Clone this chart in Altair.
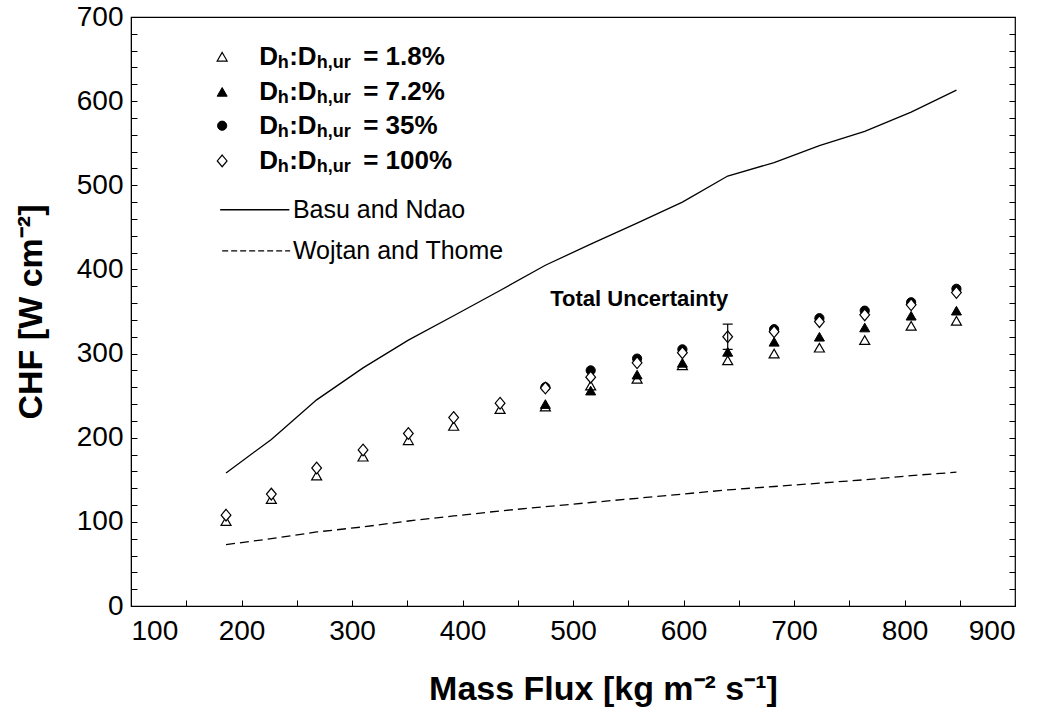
import altair as alt
import pandas as pd

# ---------------- data ----------------
mass_flux = [186, 227, 268, 310, 351, 392, 434, 475, 516, 558, 599, 640, 682, 723, 764, 806, 847]

chf_dh_1_8 = [101, 127, 155, 177.5, 197, 214, 234, 237, 262, 270, 286, 292, 300, 307, 316, 333, 339]

flux_dh_7_2 = [475, 516, 558, 599, 640, 682, 723, 764, 806, 847]
chf_dh_7_2 = [240, 256, 275, 289, 302, 314, 320, 331, 345, 351]

flux_dh_35 = [475, 516, 558, 599, 682, 723, 764, 806, 847]
chf_dh_35 = [260, 280, 294, 305, 329, 342, 351, 361, 377]

chf_dh_100 = [108, 133, 164, 185.5, 205, 224, 241, 259, 272, 289, 301, 320, 326, 338, 346, 358, 372.5]

chf_basu_ndao = [158, 198, 245, 283, 316, 345, 375, 405, 430, 455, 480, 511, 527, 547, 564, 587, 613]
chf_wojtan_thome = [73, 80, 88, 94, 101, 107, 113, 118, 123, 128, 133, 138, 142, 146, 150, 155, 159]

# total uncertainty bar
err_flux = [640]
err_low = [305]
err_high = [335]

x_ticks = [100, 200, 300, 400, 500, 600, 700, 800, 900]
x_minor = list(range(100, 901, 50))
y_ticks = [0, 100, 200, 300, 400, 500, 600, 700]
y_minor = list(range(0, 701, 20))

# legend content
legend_values = ["= 1.8%", "= 7.2%", "= 35%", "= 100%"]
legend_rows = [652.8, 611.0, 570.8, 529.0]
legend_symbol_x = 182.5
legend_text_x = 216
basu_legend_x = [180.7, 243.3]
basu_legend_y = 470.9
wojtan_legend_x = [182.5, 244.0]
wojtan_legend_y = 422.0
legend_line_text_x = 246.5
note_x, note_y = 560, 365

W, H = 884, 589
FONT = "Liberation Sans"

xs = alt.Scale(domain=[100, 900], nice=False, zero=False)
ys = alt.Scale(domain=[0, 700], nice=False, zero=False)

no_x = alt.X("x:Q", scale=xs, axis=None)
no_y = alt.Y("y:Q", scale=ys, axis=None)

curves = pd.DataFrame({"x": mass_flux, "basu": chf_basu_ndao, "woj": chf_wojtan_thome})

basu = alt.Chart(curves).mark_line(color="black", strokeWidth=1.3).encode(
    x=alt.X("x:Q", scale=xs, axis=alt.Axis(
        orient="bottom", values=x_ticks, format="d", ticks=False, tickSize=0,
        domain=True, domainColor="black", domainWidth=1, grid=False,
        labelFont=FONT, labelFontSize=28, labelColor="black", labelPadding=11,
        title="Mass Flux [kg m⁻² s⁻¹]", titleFont=FONT, titleFontSize=34,
        titleFontWeight="bold", titleColor="black", titlePadding=27, titleX=472)),
    y=alt.Y("basu:Q", scale=ys, axis=alt.Axis(
        orient="left", values=y_ticks, format="d", ticks=False, tickSize=0,
        domain=True, domainColor="black", domainWidth=1, grid=False,
        labelFont=FONT, labelFontSize=28, labelColor="black", labelPadding=8,
        title="CHF  [W cm⁻²]", titleFont=FONT, titleFontSize=34,
        titleFontWeight="bold", titleColor="black", titlePadding=28)),
)

wojtan = alt.Chart(curves).mark_line(color="black", strokeWidth=1.3, strokeDash=[9, 5]).encode(
    x=alt.X("x:Q", scale=xs, axis=alt.Axis(
        orient="top", offset=-H, values=x_minor, labels=False, ticks=True, tickSize=6,
        tickColor="black", tickWidth=1, domain=False, grid=False, title=None)),
    y=alt.Y("woj:Q", scale=ys, axis=alt.Axis(
        orient="right", offset=-W, values=y_minor, labels=False, ticks=True, tickSize=6,
        tickColor="black", tickWidth=1, domain=False, grid=False, title=None)),
)

d18 = pd.DataFrame({"x": mass_flux, "y": chf_dh_1_8})
d72 = pd.DataFrame({"x": flux_dh_7_2, "y": chf_dh_7_2})
d35 = pd.DataFrame({"x": flux_dh_35, "y": chf_dh_35})
d100 = pd.DataFrame({"x": mass_flux, "y": chf_dh_100})

DIAMOND = "M0,-1.2L1,0L0,1.2L-1,0Z"

def open_tri(df, with_axis=False):
    yenc = alt.Y("y:Q", scale=ys, axis=alt.Axis(
        orient="left", offset=-W, values=y_minor, labels=False, ticks=True, tickSize=6,
        tickColor="black", tickWidth=1, domain=False, grid=False, title=None)) if with_axis else no_y
    return alt.Chart(df).mark_point(shape="triangle-up", filled=True, fill="white", stroke="black",
                                    strokeWidth=1.2, size=100, opacity=1).encode(x=no_x, y=yenc)

def filled_tri(df):
    return alt.Chart(df).mark_point(shape="triangle-up", filled=True, fill="black", stroke="black",
                                    strokeWidth=1, size=100, opacity=1).encode(x=no_x, y=no_y)

def circle(df):
    return alt.Chart(df).mark_point(shape="circle", filled=True, fill="black", stroke="black",
                                    strokeWidth=1, size=85, opacity=1).encode(x=no_x, y=no_y)

def diamond(df):
    return alt.Chart(df).mark_point(shape=DIAMOND, filled=True, fill="white", stroke="black",
                                    strokeWidth=1.2, size=95, opacity=1).encode(x=no_x, y=no_y)

err = pd.DataFrame({"x": err_flux, "lo": err_low, "hi": err_high})
err_rule = alt.Chart(err).mark_rule(color="black", strokeWidth=1.2).encode(
    x=no_x, y=alt.Y("lo:Q", scale=ys, axis=None), y2="hi:Q")
err_caps = alt.Chart(pd.DataFrame({"x": err_flux * 2, "y": err_low + err_high})).mark_tick(
    orient="horizontal", size=10, thickness=1.2, color="black", opacity=1).encode(x=no_x, y=no_y)

note = alt.Chart(pd.DataFrame({"x": [note_x], "y": [note_y], "t": ["Total Uncertainty"]})).mark_text(
    font=FONT, fontSize=22, fontWeight="bold", color="black", align="center", baseline="middle"
).encode(x=no_x, y=no_y, text="t:N")

# legend symbols
leg_sym = [pd.DataFrame({"x": [legend_symbol_x], "y": [legend_rows[i]]}) for i in range(4)]
leg_symbols = [open_tri(leg_sym[0]), filled_tri(leg_sym[1]), circle(leg_sym[2]), diamond(leg_sym[3])]

leg_df = pd.DataFrame({"x": [legend_text_x] * 4, "y": legend_rows, "v": legend_values})

def piece(text, dx, size, dy=0, field=None):
    mk = alt.Chart(leg_df).mark_text(font=FONT, fontSize=size, fontWeight="bold", color="black",
                                     align="left", baseline="middle", dx=dx, dy=dy)
    if field:
        return mk.encode(x=no_x, y=no_y, text=f"{field}:N")
    return mk.encode(x=no_x, y=no_y, text=alt.value(text))

leg_text = [
    piece("D", 0, 26),
    piece("h", 18.5, 18, dy=6),
    piece(":D", 30.0, 26),
    piece("h,ur", 57.5, 18, dy=6),
    piece(None, 104, 26, field="v"),
]

basu_leg = alt.Chart(pd.DataFrame({"x": basu_legend_x, "y": [basu_legend_y] * 2})).mark_line(
    color="black", strokeWidth=1.3).encode(x=no_x, y=no_y)
woj_leg = alt.Chart(pd.DataFrame({"x": wojtan_legend_x, "y": [wojtan_legend_y] * 2})).mark_line(
    color="black", strokeWidth=1.3, strokeDash=[6, 3]).encode(x=no_x, y=no_y)
line_labels = alt.Chart(pd.DataFrame({"x": [legend_line_text_x] * 2,
                                      "y": [basu_legend_y, wojtan_legend_y],
                                      "t": ["Basu and Ndao", "Wojtan and Thome"]})).mark_text(
    font=FONT, fontSize=25, color="black", align="left", baseline="middle"
).encode(x=no_x, y=no_y, text="t:N")

chart = alt.layer(
    basu, wojtan,
    open_tri(d18, with_axis=True), filled_tri(d72), circle(d35), diamond(d100),
    err_rule, err_caps, note,
    *leg_symbols, *leg_text, basu_leg, woj_leg, line_labels,
).resolve_axis(x="independent", y="independent").properties(
    width=W, height=H,
    autosize=alt.AutoSizeParams(type="none"),
    padding={"left": 131, "top": 17, "right": 24, "bottom": 111},
    background="white",
).configure_view(stroke="black", strokeWidth=1.2)

chart.save("out.html", embed_options={"renderer": "svg", "actions": False})
